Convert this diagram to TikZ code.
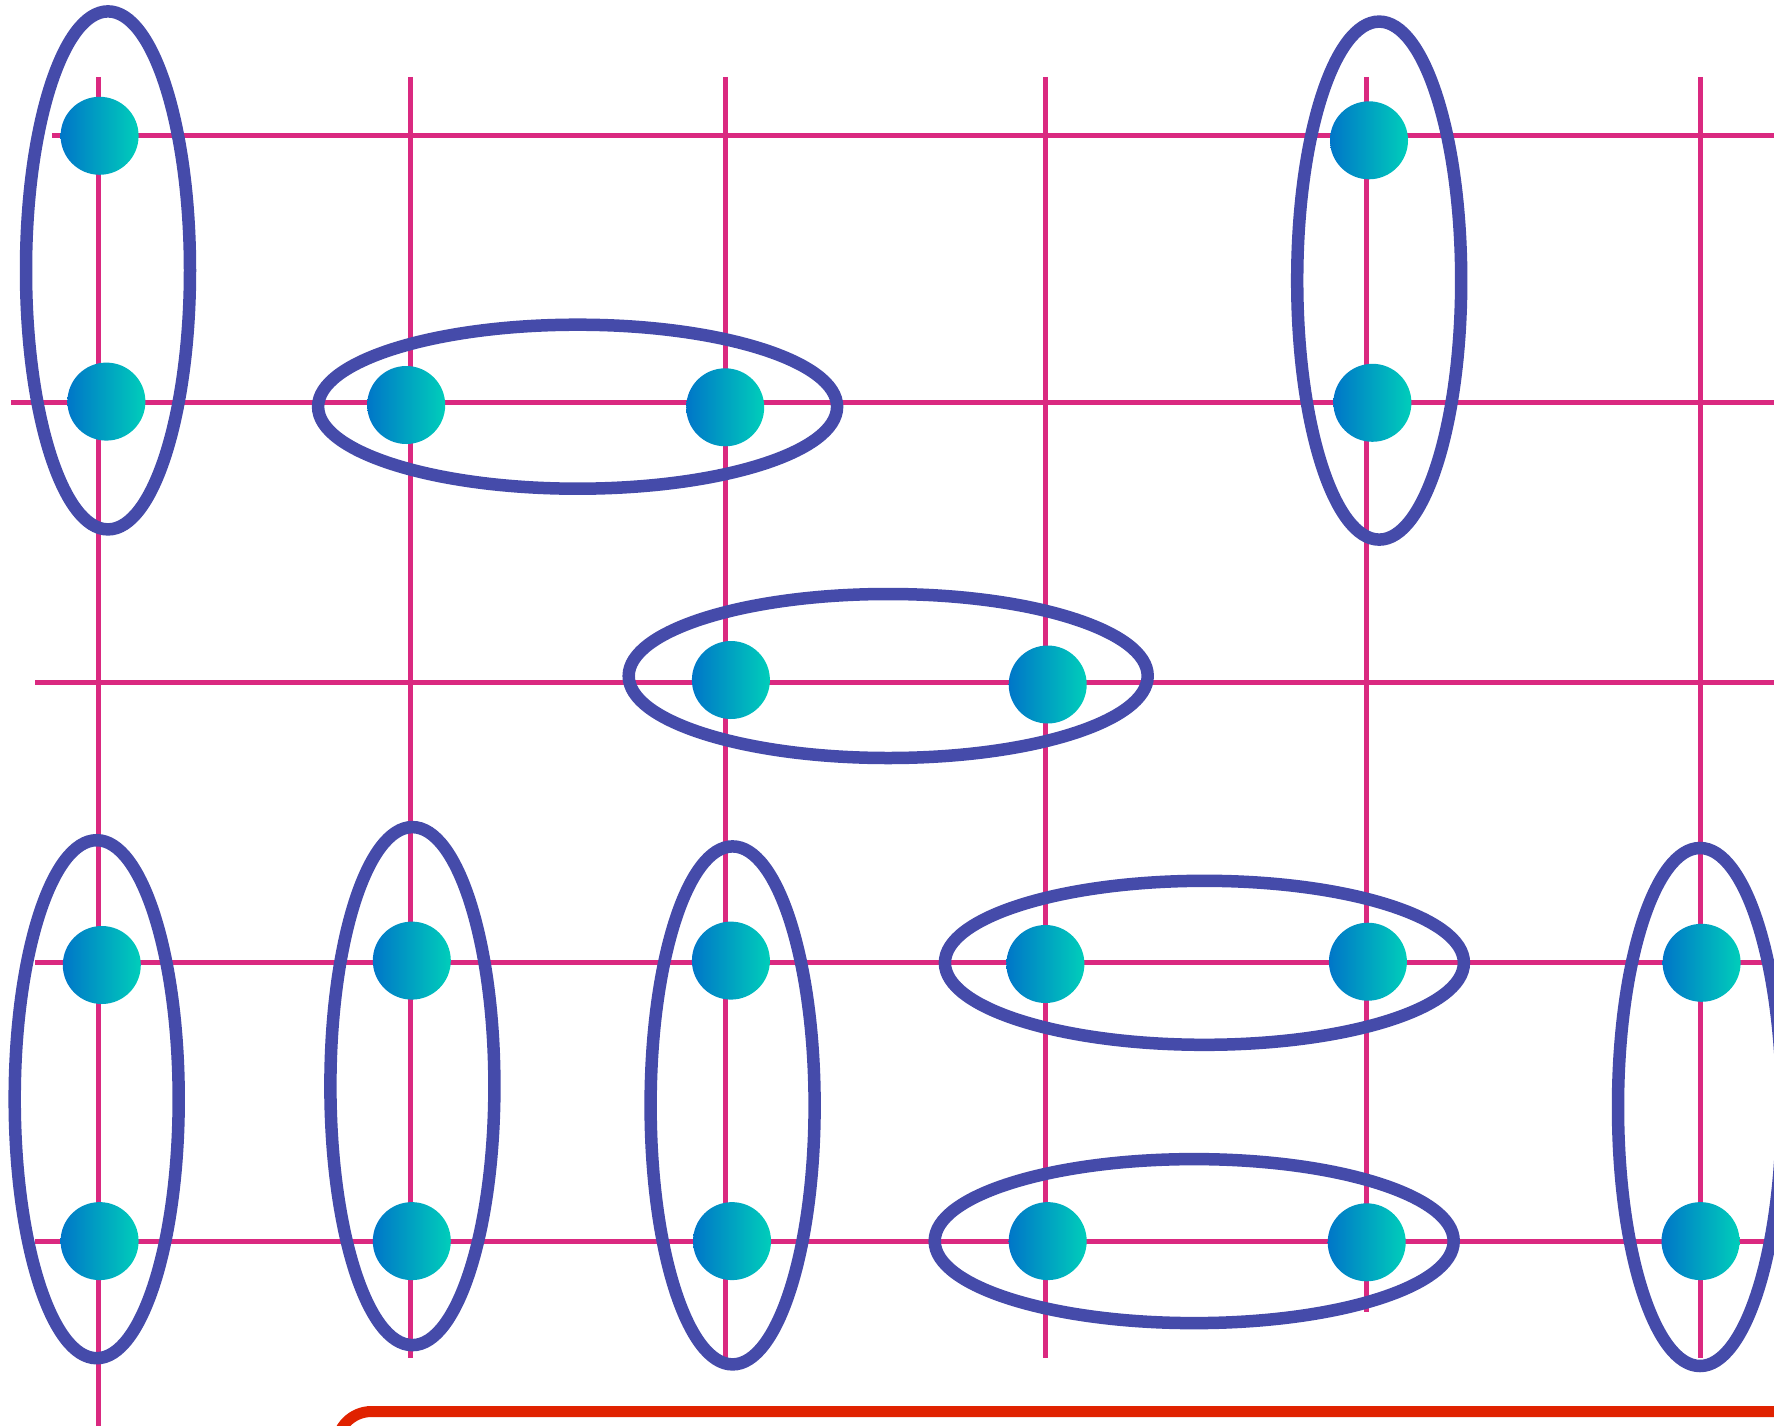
\documentclass[tikz,border=0pt]{standalone}
\usetikzlibrary{shapes.geometric}
\definecolor{gridc}{RGB}{218,41,128}
\definecolor{ringc}{RGB}{69,75,170}
\definecolor{dotl}{RGB}{0,118,200}
\definecolor{dotr}{RGB}{0,206,186}
\definecolor{boxc}{RGB}{224,34,0}
\begin{document}
\begin{tikzpicture}[x=1pt,y=-1pt,
  gridline/.style={draw=gridc, line width=5pt},
  ringv/.style={ellipse, draw=ringc, line width=12.5pt, inner sep=0pt, minimum width=164pt, minimum height=518pt},
  ringh/.style={ellipse, draw=ringc, line width=12.5pt, inner sep=0pt, minimum width=519pt, minimum height=164pt},
  dotnode/.style={circle, inner sep=0pt, minimum size=78pt, left color=dotl, right color=dotr},
  redbox/.style={draw=boxc, fill=white, line width=11pt, rounded corners=35pt}]
\useasboundingbox (0,0) rectangle (1774,1426);
\clip (0,0) rectangle (1774,1426);
% grid
\draw[gridline] (52,136) -- (1774,136);
\draw[gridline] (11,402) -- (1774,402);
\draw[gridline] (35,682) -- (1774,682);
\draw[gridline] (35,962) -- (1774,962);
\draw[gridline] (35,1241) -- (1774,1241);
\draw[gridline] (98.5,77) -- (98.5,1426);
\draw[gridline] (410.7,77) -- (410.7,1358);
\draw[gridline] (725.2,77) -- (725.2,1358);
\draw[gridline] (1045.4,77) -- (1045.4,1358);
\draw[gridline] (1366.7,77) -- (1366.7,1312);
\draw[gridline] (1700,77) -- (1700,1358);
% rings
\node[ringv] (e1) at (108,270.4) {};
\node[ringh] (e2) at (577.6,406.7) {};
\node[ringv] (e3) at (1379.2,280.6) {};
\node[ringh] (e4) at (888.2,676) {};
\node[ringv] (e5) at (96.7,1099.2) {};
\node[ringv] (e6) at (412.4,1086.1) {};
\node[ringv] (e7) at (732.6,1105.4) {};
\node[ringh] (e8) at (1204.4,962.8) {};
\node[ringh] (e9) at (1194.2,1241.1) {};
\node[ringv] (e10) at (1700,1107) {};
% dots
\node[dotnode] (c1) at (99.6,135.8) {};
\node[dotnode] (c2) at (106.4,401.6) {};
\node[dotnode] (c3) at (406.2,405) {};
\node[dotnode] (c4) at (725.2,407.3) {};
\node[dotnode] (c5) at (1369,140.3) {};
\node[dotnode] (c6) at (1372.4,402.8) {};
\node[dotnode] (c7) at (730.9,680) {};
\node[dotnode] (c8) at (1047.7,684.5) {};
\node[dotnode] (c9) at (101.8,965) {};
\node[dotnode] (c10) at (411.8,960.6) {};
\node[dotnode] (c11) at (730.9,960.6) {};
\node[dotnode] (c12) at (1045.4,964) {};
\node[dotnode] (c13) at (1367.9,961.7) {};
\node[dotnode] (c14) at (1701.6,962.8) {};
\node[dotnode] (c15) at (99.6,1241.1) {};
\node[dotnode] (c16) at (411.8,1241.1) {};
\node[dotnode] (c17) at (732,1241.1) {};
\node[dotnode] (c18) at (1047.7,1241.1) {};
\node[dotnode] (c19) at (1366.7,1242.3) {};
\node[dotnode] (c20) at (1700.5,1241.1) {};
% red box
\draw[redbox] (336.5,1411.5) rectangle (2000,1800);
\end{tikzpicture}
\end{document}
